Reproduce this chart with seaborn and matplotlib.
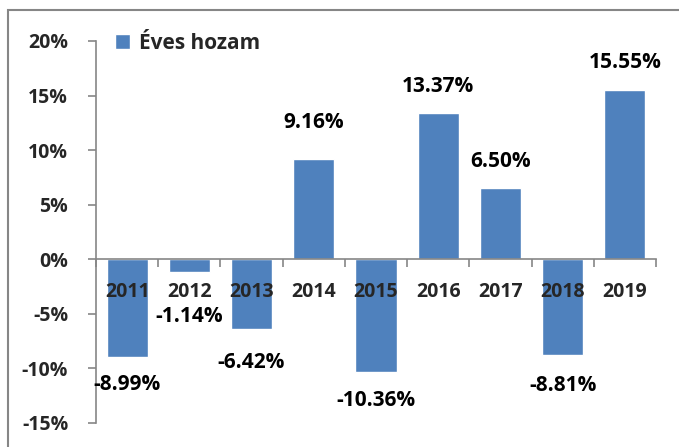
import numpy as np
import matplotlib
matplotlib.use("Agg")
import matplotlib.pyplot as plt
import matplotlib.ticker as mticker
from matplotlib.patches import Rectangle
import pandas as pd
import seaborn as sns

# adatok (éves hozam, %)
years = ["2011", "2012", "2013", "2014", "2015", "2016", "2017", "2018", "2019"]
returns = [-8.99, -1.14, -6.42, 9.16, -10.36, 13.37, 6.50, -8.81, 15.55]
label_offsets = [12, 25, 16, 19, 13, 12, 12, 14, 12]  # pont, címke távolsága

df = pd.DataFrame({"ev": years, "hozam": returns})

sns.set_style("white")
plt.rcParams["font.family"] = ["Open Sans", "DejaVu Sans"]
plt.rcParams["font.weight"] = "bold"

fig = plt.figure(figsize=(6.79, 4.47), dpi=100)
ax = fig.add_axes([96 / 679, 1 - 423 / 447, (656 - 96) / 679, (423 - 41) / 447])

bar_color = "#4F81BD"
sns.barplot(data=df, x="ev", y="hozam", color=bar_color, saturation=1,
            width=0.66, ax=ax, label="Éves hozam")
ax.set_axisbelow(False)

ax.set_ylim(-15, 20)
ax.set_xlim(-0.5, len(years) - 0.5)
ax.yaxis.set_major_locator(mticker.MultipleLocator(5))
ax.yaxis.set_major_formatter(mticker.FuncFormatter(lambda v, p: f"{v:.0f}%"))
ax.set_xlabel("")
ax.set_ylabel("")

# tengelyek
grey = "#868686"
for s in ["top", "right"]:
    ax.spines[s].set_visible(False)
ax.spines["left"].set_color(grey)
ax.spines["left"].set_linewidth(1.2)
ax.spines["bottom"].set_color(grey)
ax.spines["bottom"].set_linewidth(1.2)
ax.spines["bottom"].set_position(("data", 0))

ax.tick_params(axis="y", left=True, length=6, width=1.2, color=grey,
               labelsize=14, pad=14)
ax.tick_params(axis="x", which="major", bottom=False, labelsize=14, pad=13)
ax.set_xticks(np.arange(len(years) + 1) - 0.5, minor=True)
ax.tick_params(axis="x", which="minor", bottom=True, length=6, width=1.2,
               color=grey, direction="out")
for lbl in ax.get_xticklabels() + ax.get_yticklabels():
    lbl.set_fontweight("bold")

# értékcímkék
for i, v in enumerate(returns):
    off = label_offsets[i] if v >= 0 else -label_offsets[i]
    ax.annotate(f"{v:.2f}%", xy=(i, v), xytext=(0, off), textcoords="offset points",
                ha="center", va="bottom" if v >= 0 else "top",
                fontsize=15, fontweight="bold", color="black")

leg = ax.legend(loc="upper left", bbox_to_anchor=(0.0, 1.07), frameon=False,
                handlelength=0.75, handleheight=0.75, handletextpad=0.4,
                prop={"size": 15, "weight": "bold"})

# külső keret
fig.patches.append(Rectangle((8 / 679, -0.1), 1.2, 1 - 10 / 447 + 0.1,
                             transform=fig.transFigure, fill=False,
                             edgecolor=grey, linewidth=1.5))

fig.savefig("out.png", dpi=100)
